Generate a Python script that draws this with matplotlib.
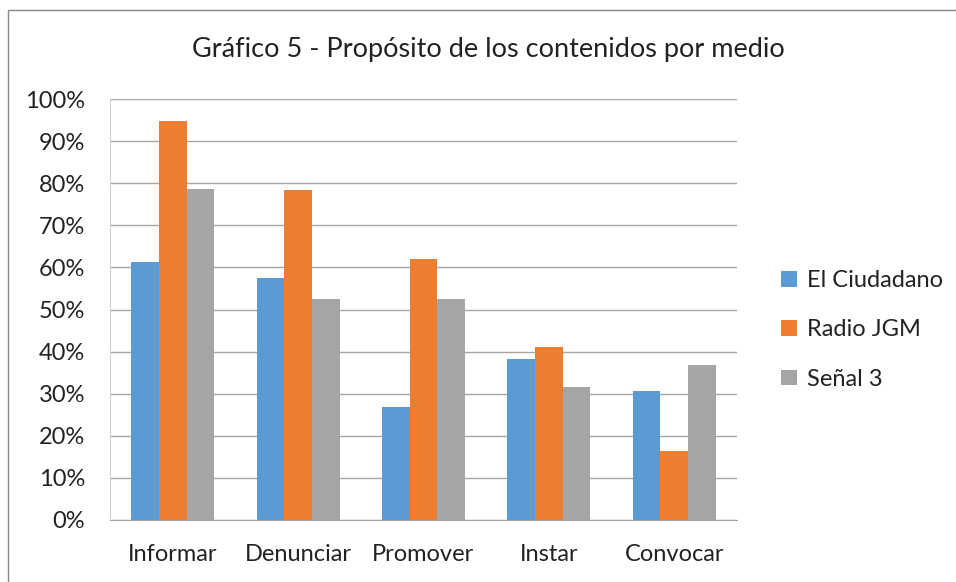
import matplotlib
matplotlib.use("Agg")
import matplotlib.pyplot as plt
import numpy as np
from matplotlib.patches import Rectangle

categories = ["Informar", "Denunciar", "Promover", "Instar", "Convocar"]
el_ciudadano = [61.4, 57.5, 26.8, 38.3, 30.6]
radio_jgm = [94.8, 78.5, 62.0, 41.0, 16.4]
senal_3 = [78.7, 52.6, 52.6, 31.6, 36.7]
series_names = ["El Ciudadano", "Radio JGM", "Señal 3"]
colors = ["#5B9BD5", "#ED7D31", "#A5A5A5"]
yticks = [0, 10, 20, 30, 40, 50, 60, 70, 80, 90, 100]

plt.rcParams['font.family'] = ['Lato', 'DejaVu Sans']

W, H = 956, 582
fig = plt.figure(figsize=(W/100, H/100), dpi=100)
ax = fig.add_axes([110/W, 1-520/H, (737-110)/W, (520-99)/H])

x = np.arange(len(categories))
bw = 0.221
for i, (vals, name, c) in enumerate(zip([el_ciudadano, radio_jgm, senal_3], series_names, colors)):
    ax.bar(x + (i-1)*bw, vals, bw, color=c, label=name, zorder=3)

ax.set_xlim(-0.5, len(categories)-0.5)
ax.set_ylim(0, 100)
ax.set_yticks(yticks)
ax.set_yticklabels([f"{v}%" for v in yticks], fontsize=17, color="#222222")
ax.set_xticks(x)
ax.set_xticklabels(categories, fontsize=17, color="#222222")
ax.tick_params(axis='both', length=0)
ax.tick_params(axis='y', pad=18)
ax.tick_params(axis='x', pad=17)
ax.grid(axis='y', color="#A6A6A6", linewidth=1.0, zorder=0)
for s in ['top', 'right']:
    ax.spines[s].set_visible(False)
ax.spines['left'].set_color("#D0D0D0")
ax.spines['bottom'].set_color("#A6A6A6")

fig.text(488/W, 1-49/H, "Gráfico 5 - Propósito de los contenidos por medio",
         ha='center', va='center', fontsize=19.5, color="#222222")

leg = ax.legend(loc='center left', bbox_to_anchor=(760/W, 1-330/H), bbox_transform=fig.transFigure,
                frameon=False, fontsize=17, handlelength=0.65, handleheight=0.65,
                handletextpad=0.45, labelspacing=1.2)
for t in leg.get_texts():
    t.set_color("#222222")

fig.patches.append(Rectangle((8/W, -0.01), 2.0, 1-10/H+0.01, transform=fig.transFigure,
                             fill=False, edgecolor="#888888", linewidth=1.0))

fig.savefig("out.png", dpi=100)
